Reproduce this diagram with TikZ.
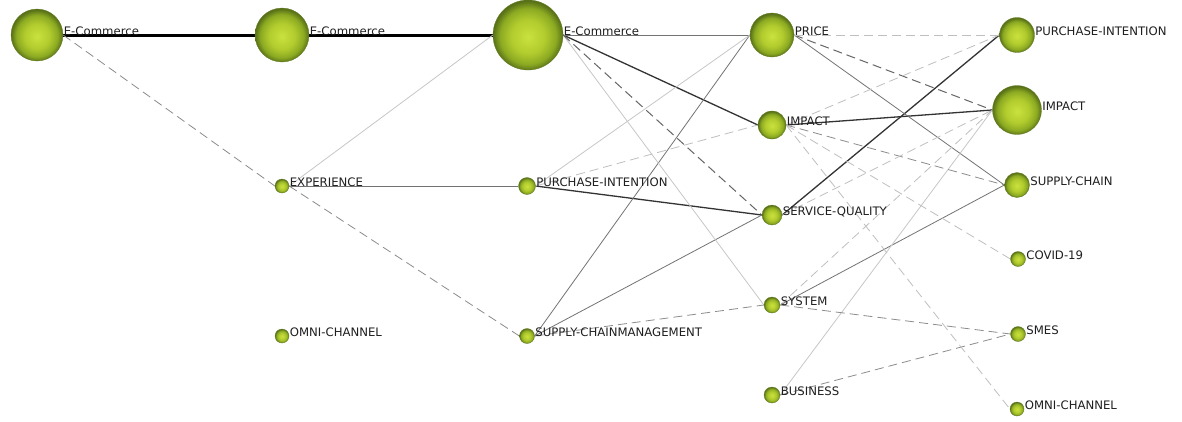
\documentclass[tikz,border=0pt]{standalone}
\usepackage{fontspec}
\setmainfont{DejaVu Sans}
\usetikzlibrary{positioning,backgrounds}

\definecolor{ballin}{RGB}{202,226,62}
\definecolor{ballmid}{RGB}{178,204,46}
\definecolor{ballshade}{RGB}{140,170,34}
\definecolor{ballout}{RGB}{88,112,24}
\definecolor{ballrim}{RGB}{96,122,30}
\pgfdeclareradialshading{greenball}{\pgfpoint{0bp}{-1.5bp}}{%
  color(0bp)=(ballin); color(12bp)=(ballmid); color(20bp)=(ballshade); color(25bp)=(ballout); color(50bp)=(ballout)}

\begin{document}
\begin{tikzpicture}[x=1pt, y=-1pt,
    ball/.style={circle, inner sep=0pt, shading=greenball, draw=ballrim, line width=0.3pt},
    lbl/.style={anchor=base west, inner sep=0pt, font=\fontsize{11.7}{13}\selectfont, text=black!88},
    heavy/.style={line width=3pt, black},
    strong/.style={line width=1.3pt, black!80},
    plain/.style={line width=0.8pt, black!55},
    faint/.style={line width=0.8pt, black!22},
    dashdark/.style={line width=1pt, black!60, dash pattern=on 9pt off 5pt},
    dashmid/.style={line width=0.8pt, black!45, dash pattern=on 9pt off 5pt},
    dashlight/.style={line width=0.8pt, black!25, dash pattern=on 9pt off 5pt}]
    \useasboundingbox (0,0) rectangle (1182,421);
    % 绘制节点(五列)
    \foreach \nm/\x/\y/\r/\txt in {
        ec1/37/35/26/E-Commerce,
        ec2/282/35/27/E-Commerce,
        exp2/282/186/7/EXPERIENCE,
        omni2/282/336/7/OMNI-CHANNEL,
        ec3/528/35/35/E-Commerce,
        pi3/527/186/8.5/PURCHASE-INTENTION,
        scm3/527/336/7.5/SUPPLY-CHAINMANAGEMENT,
        price4/772/35/22/PRICE,
        imp4/772/125/14/IMPACT,
        sq4/772/215/10/SERVICE-QUALITY,
        sys4/772/305/8/SYSTEM,
        bus4/772/395/8/BUSINESS,
        pi5/1017/35/17.5/PURCHASE-INTENTION,
        imp5/1017/110/24.5/IMPACT,
        sc5/1017/185/12.5/SUPPLY-CHAIN,
        covid5/1018/259/7.5/COVID-19,
        smes5/1018/334/7.5/SMES,
        omni5/1017/409/7/OMNI-CHANNEL} {
        \pgfmathsetmacro{\d}{2*\r}
        \node[ball, minimum size=\d pt] (\nm) at (\x,\y) {};
        \node[lbl] (t\nm) at ([xshift=0.5pt]\nm.east) {\txt};
    }
    % 绘制连线(放在背景层)
    \begin{scope}[on background layer]
        \fill[white] (0,0) rectangle (1182,421);
        \foreach \a/\b in {ec1/ec2, ec2/ec3}
            \draw[heavy] (\a.east) -- (\b.west);
        \foreach \a/\b in {ec3/imp4, pi3/sq4, sq4/pi5, imp4/imp5}
            \draw[strong] (\a.east) -- (\b.west);
        \foreach \a/\b in {exp2/pi3, ec3/price4, scm3/price4, scm3/sq4, price4/sc5, sys4/sc5}
            \draw[plain] (\a.east) -- (\b.west);
        \foreach \a/\b in {exp2/ec3, ec3/sys4, pi3/price4, bus4/imp5}
            \draw[faint] (\a.east) -- (\b.west);
        \foreach \a/\b in {ec3/sq4, price4/imp5}
            \draw[dashdark] (\a.east) -- (\b.west);
        \foreach \a/\b in {ec1/exp2, exp2/scm3, scm3/sys4, imp4/sc5, sys4/smes5, bus4/smes5}
            \draw[dashmid] (\a.east) -- (\b.west);
        \foreach \a/\b in {pi3/imp4, price4/pi5, imp4/pi5, imp4/covid5, imp4/omni5, sq4/imp5, sys4/imp5}
            \draw[dashlight] (\a.east) -- (\b.west);
    \end{scope}
\end{tikzpicture}
\end{document}
